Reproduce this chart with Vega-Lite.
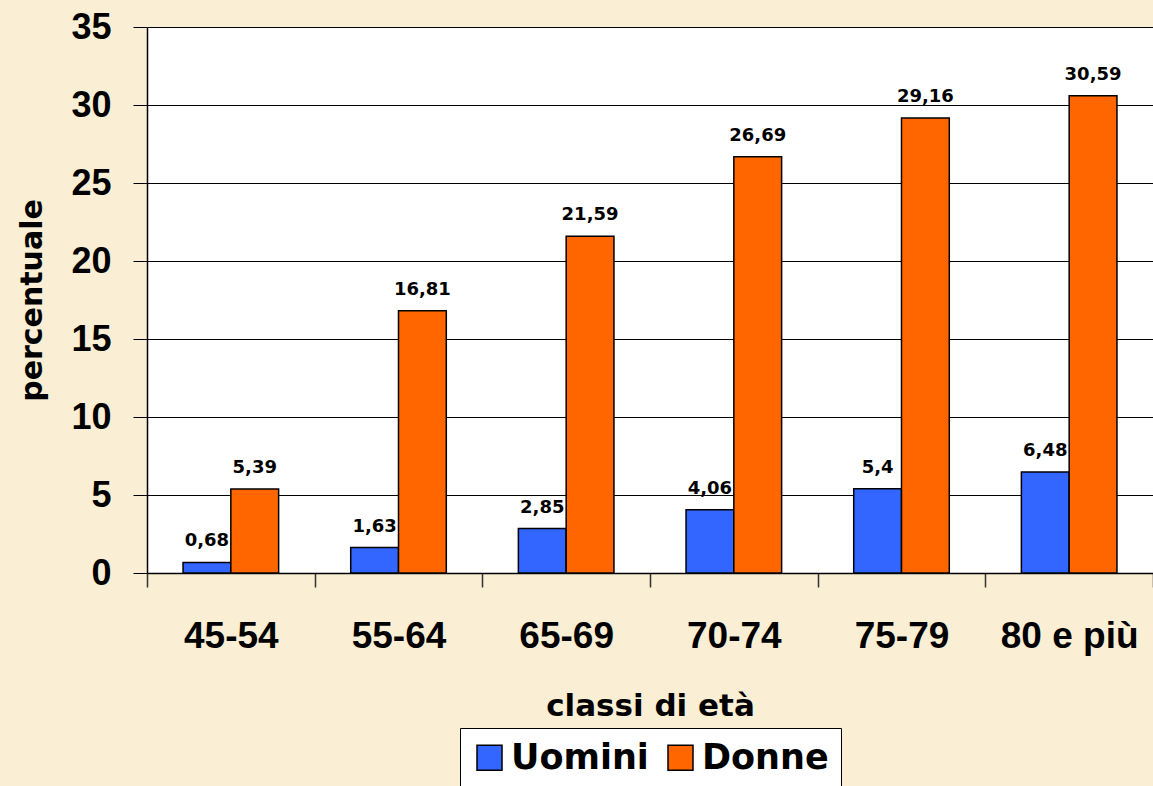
{
  "$schema": "https://vega.github.io/schema/vega-lite/v6.json",
  "autosize": {"type": "none"},
  "width": 1006,
  "height": 546,
  "padding": {"left": 147, "top": 27, "right": 0, "bottom": 213},
  "background": "#FAEED4",
  "config": {
    "view": {"fill": "white", "stroke": null},
    "locale": {"number": {"decimal": ",", "thousands": ".", "grouping": [3], "currency": ["€", ""]}}
  },
  "data": {
    "values": [
      {"classe": "45-54", "sesso": "Uomini", "percentuale": 0.68},
      {"classe": "45-54", "sesso": "Donne", "percentuale": 5.39},
      {"classe": "55-64", "sesso": "Uomini", "percentuale": 1.63},
      {"classe": "55-64", "sesso": "Donne", "percentuale": 16.81},
      {"classe": "65-69", "sesso": "Uomini", "percentuale": 2.85},
      {"classe": "65-69", "sesso": "Donne", "percentuale": 21.59},
      {"classe": "70-74", "sesso": "Uomini", "percentuale": 4.06},
      {"classe": "70-74", "sesso": "Donne", "percentuale": 26.69},
      {"classe": "75-79", "sesso": "Uomini", "percentuale": 5.4},
      {"classe": "75-79", "sesso": "Donne", "percentuale": 29.16},
      {"classe": "80 e più", "sesso": "Uomini", "percentuale": 6.48},
      {"classe": "80 e più", "sesso": "Donne", "percentuale": 30.59}
    ]
  },
  "encoding": {
    "x": {
      "field": "classe", "type": "nominal", "sort": null,
      "scale": {"paddingInner": 0, "paddingOuter": 0},
      "axis": {
        "title": "classi di età",
        "titleFont": "DejaVu Sans", "titleFontSize": 31, "titleFontWeight": "bold", "titleColor": "black",
        "titleBaseline": "alphabetic", "titleY": 142,
        "labelFont": "Liberation Sans", "labelFontSize": 37, "labelFontWeight": "bold", "labelColor": "black",
        "labelAngle": 0, "labelBaseline": "alphabetic", "labelPadding": 60,
        "ticks": true, "tickBand": "extent", "tickSize": 14, "tickColor": "#333333", "tickWidth": 1.5,
        "domainColor": "black", "domainWidth": 1.5, "grid": false
      }
    },
    "xOffset": {"field": "sesso", "type": "nominal", "sort": ["Uomini", "Donne"], "scale": {"paddingInner": 0, "paddingOuter": 0.754}},
    "y": {
      "field": "percentuale", "type": "quantitative",
      "scale": {"domain": [0, 35], "nice": false},
      "axis": {
        "title": "percentuale", "values": [0, 5, 10, 15, 20, 25, 30, 35],
        "titleFont": "DejaVu Sans", "titleFontSize": 30, "titleFontWeight": "bold", "titleColor": "black",
        "titleBaseline": "alphabetic", "titleX": -106, "titleY": 273, "titleAngle": -90, "titleAlign": "center",
        "labelFont": "Liberation Sans", "labelFontSize": 36, "labelFontWeight": "bold", "labelColor": "black",
        "labelPadding": 22, "format": "d",
        "tickSize": 14, "tickColor": "black", "tickWidth": 1,
        "domainColor": "black", "domainWidth": 1.5,
        "grid": true, "gridColor": "black", "gridWidth": 1, "gridOpacity": 1
      }
    }
  },
  "layer": [
    {
      "mark": {"type": "bar", "stroke": "black", "strokeWidth": 1.5},
      "encoding": {
        "color": {
          "field": "sesso", "type": "nominal", "sort": ["Uomini", "Donne"],
          "scale": {"domain": ["Uomini", "Donne"], "range": ["#3366FF", "#FF6600"]},
          "legend": {
            "title": null, "orient": "none", "direction": "horizontal",
            "legendX": 313, "legendY": 701,
            "fillColor": "white", "strokeColor": "black", "padding": 12,
            "symbolType": "square", "symbolSize": 625, "symbolStrokeColor": "black", "symbolStrokeWidth": 1.5,
            "labelFont": "DejaVu Sans", "labelFontSize": 35, "labelFontWeight": "bold", "labelColor": "black",
            "labelOffset": 4, "columnPadding": 14
          }
        }
      }
    },
    {
      "mark": {"type": "text", "font": "DejaVu Sans", "fontSize": 18, "fontWeight": "bold", "color": "black", "baseline": "alphabetic", "dy": -16},
      "encoding": {
        "text": {"field": "percentuale", "type": "quantitative", "format": "~g"}
      }
    }
  ]
}
